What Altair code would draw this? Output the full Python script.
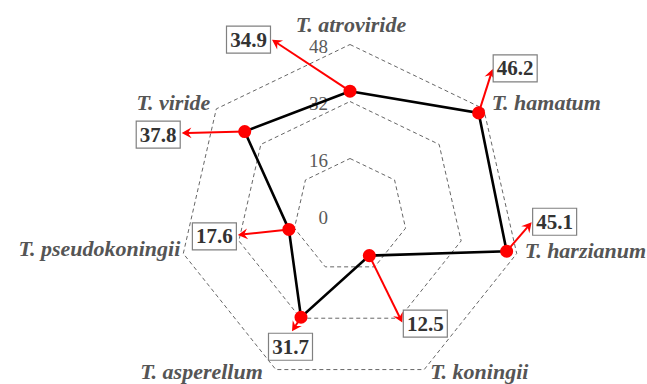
import numpy as np
import pandas as pd
import altair as alt

# ---- data -------------------------------------------------------------
species = ["T. atroviride", "T. hamatum", "T. harzianum", "T. koningii",
           "T. asperellum", "T. pseudokoningii", "T. viride"]
values = [34.9, 46.2, 45.1, 12.5, 31.7, 17.6, 37.8]
ring_levels = [16, 32, 48]
tick_values = [0, 16, 32, 48]
tick_labels = ["0", "16", "32", "48"]

# ---- layout (pixels) --------------------------------------------------
W, H = 647, 384
CX, CY = 350, 215.5          # centre of the radar
PX = 171 / 48                # pixels per value unit
R_MAX = 48

# callouts: value box centre and arrow tip, offsets from the marker (px, y down)
box_offsets = [(-101.5, -51.5), (36.5, -44.5), (48, -29.5), (56, 68),
               (-10.5, 29.5), (-74.5, 7), (-86.5, 3)]
tip_offsets = [(-78, -51.5), (14, -44), (25, -29), (33, 67),
               (-9, 14), (-51, 5.5), (-63, 1.5)]
# species names: offset from outer-ring vertex (px, y down) and alignment
name_offsets = [(1, -13), (8, 1), (8, 4.5), (6, 9.4), (-13, 9.4), (-3, 2.5), (-6, 1)]
name_align = ["center", "left", "left", "left", "right", "right", "right"]
BOX_W, BOX_H = 44, 27

n = len(species)
ang = np.deg2rad(90 - np.arange(n) * 360 / n)


def polar(r):
    r = np.asarray(r, dtype=float)
    return r * np.cos(ang), r * np.sin(ang)


# grid rings (dashed heptagons)
ring_rows = []
for lv in ring_levels:
    gx, gy = polar([lv] * n)
    for k in range(n + 1):
        ring_rows.append({"level": lv, "order": k, "x": gx[k % n], "y": gy[k % n]})
rings = pd.DataFrame(ring_rows)

# data polygon
px_, py_ = polar(values)
poly = pd.DataFrame({"order": list(range(n + 1)),
                     "x": list(px_) + [px_[0]], "y": list(py_) + [py_[0]]})
pts = pd.DataFrame({"species": species, "value": values, "x": px_, "y": py_})

# callout geometry (convert pixel offsets to value units)
bx = px_ + np.array([o[0] for o in box_offsets]) / PX
by = py_ - np.array([o[1] for o in box_offsets]) / PX
tdx = np.array([o[0] for o in tip_offsets])
tdy = np.array([o[1] for o in tip_offsets])
tx = px_ + tdx / PX
ty = py_ - tdy / PX
head_ang = np.mod(np.degrees(np.arctan2(tdy, tdx)), 360)
# stop the shaft a little before the tip so the head stays sharp
tlen = np.hypot(tdx, tdy)
sx = px_ + tdx * (1 - 6 / tlen) / PX
sy = py_ - tdy * (1 - 6 / tlen) / PX
call = pd.DataFrame({
    "label": [f"{v:.1f}" for v in values],
    "x": px_, "y": py_, "tx": tx, "ty": ty, "sx": sx, "sy": sy, "ang": head_ang,
    "bx": bx, "by": by,
    "bx1": bx - BOX_W / 2 / PX, "bx2": bx + BOX_W / 2 / PX,
    "by1": by - BOX_H / 2 / PX, "by2": by + BOX_H / 2 / PX,
})

# species names at the outer vertices
ox, oy = polar([R_MAX] * n)
names = pd.DataFrame({
    "species": species,
    "x": ox + np.array([o[0] for o in name_offsets]) / PX,
    "y": oy - np.array([o[1] for o in name_offsets]) / PX,
    "align": name_align,
})

ticks = pd.DataFrame({"label": tick_labels, "y": tick_values,
                      "x": [(328 - CX) / PX] * len(tick_values)})

# ---- scales -----------------------------------------------------------
xs = alt.Scale(domain=[-CX / PX, (W - CX) / PX], nice=False, zero=False)
ys = alt.Scale(domain=[-(H - CY) / PX, CY / PX], nice=False, zero=False)
X = lambda f: alt.X(f, type="quantitative", scale=xs, axis=None)
Y = lambda f: alt.Y(f, type="quantitative", scale=ys, axis=None)

grid = alt.Chart(rings).mark_line(
    color="#555555", strokeWidth=0.9, strokeDash=[4, 3]
).encode(x=X("x"), y=Y("y"), detail="level:N", order="order:Q")

tick_text = alt.Chart(ticks).mark_text(
    align="right", baseline="middle", font="Liberation Serif", fontSize=19,
    color="#5a5a5a", dy=2
).encode(x=X("x"), y=Y("y"), text="label:N")

outline = alt.Chart(poly).mark_line(
    color="black", strokeWidth=2.6
).encode(x=X("x"), y=Y("y"), order="order:Q")

arrows = alt.Chart(call).mark_rule(color="#ff0000", strokeWidth=2).encode(
    x=X("x"), y=Y("y"), x2="sx", y2="sy")

heads = alt.Chart(call).mark_point(
    shape="M 0 0 L -1 -0.55 L -0.65 0 L -1 0.55 Z", filled=True, color="#ff0000",
    strokeWidth=0.5, size=380, opacity=1
).encode(x=X("tx"), y=Y("ty"), angle=alt.Angle("ang:Q", scale=None))

dots = alt.Chart(pts).mark_circle(color="#ff0000", size=170, opacity=1).encode(
    x=X("x"), y=Y("y"))

boxes = alt.Chart(call).mark_rect(
    fill="white", stroke="#808080", strokeWidth=1.2
).encode(x=X("bx1"), x2="bx2", y=Y("by1"), y2="by2")

box_text = alt.Chart(call).mark_text(
    align="center", baseline="middle", font="Liberation Serif", fontSize=21,
    fontWeight="bold", color="#333333", dy=1
).encode(x=X("bx"), y=Y("by"), text="label:N")

name_layers = []
for al in ["left", "center", "right"]:
    name_layers.append(
        alt.Chart(names).transform_filter(alt.datum.align == al).mark_text(
            align=al, baseline="alphabetic", font="Liberation Serif", fontSize=22,
            fontStyle="italic", fontWeight="bold", color="#555555"
        ).encode(x=X("x"), y=Y("y"), text="species:N")
    )

chart = alt.layer(
    grid, tick_text, outline, arrows, heads, dots, boxes, box_text, *name_layers
).properties(
    width=W, height=H, padding=0, autosize="none"
).configure_view(stroke=None)

chart.save("out.html", embed_options={"renderer": "svg", "actions": False})
